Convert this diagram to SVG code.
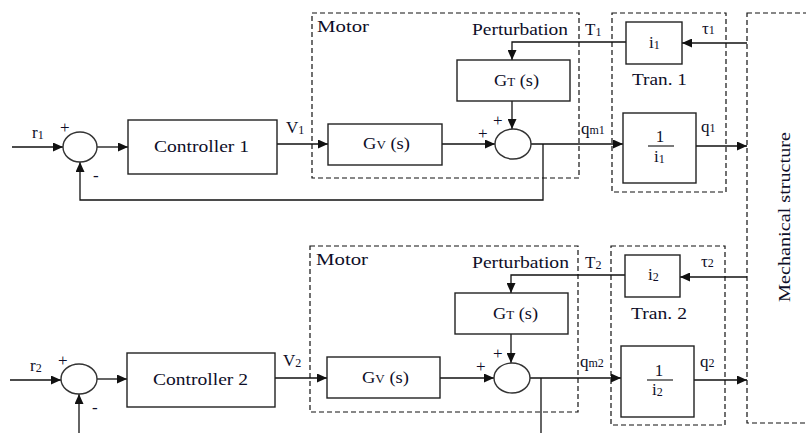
<svg xmlns="http://www.w3.org/2000/svg" width="806" height="433" viewBox="0 0 806 433">
<defs>
<marker id="ah" markerUnits="userSpaceOnUse" markerWidth="11" markerHeight="9" refX="10" refY="4.5" orient="auto">
<path d="M0,0 L10,4.5 L0,9 z" fill="#111"/>
</marker>
<style>
.blk{fill:#fff;stroke:#222;stroke-width:1.4}
.sum{fill:#fff;stroke:#333;stroke-width:1.4}
.dash{fill:none;stroke:#111;stroke-width:1.2;stroke-dasharray:5,3}
.ln{fill:none;stroke:#111;stroke-width:1.3}
.ar{marker-end:url(#ah)}
text{font-family:"Liberation Serif","Times New Roman",serif;fill:#0e0e28;font-size:17px}
.sub{font-size:12px}
.sg{font-size:17px}
</style>
</defs>
<rect width="806" height="433" fill="#fff"/>

<g id="connectors">
<path class="ln ar" d="M12,147 H63"/>
<path class="ln ar" d="M97,147 H128"/>
<path class="ln ar" d="M277,144 H328"/>
<path class="ln ar" d="M442,144 H495"/>
<path class="ln ar" d="M512,101 V129"/>
<path class="ln ar" d="M626,42 H512 V60"/>
<path class="ln ar" d="M531,144 H623"/>
<path class="ln ar" d="M543,144 V200 H80 V162"/>
<path class="ln ar" d="M696,146 H747"/>
<path class="ln ar" d="M747,43 H682"/>

<path class="ln ar" d="M10,380 H61"/>
<path class="ln ar" d="M97,379 H127"/>
<path class="ln ar" d="M275,378 H327"/>
<path class="ln ar" d="M440,378 H494"/>
<path class="ln ar" d="M511,334 V363"/>
<path class="ln ar" d="M625,275 H511 V293"/>
<path class="ln ar" d="M530,378 H621"/>
<path class="ln" d="M541,378 V433"/>
<path class="ln ar" d="M79,433 V394"/>
<path class="ln ar" d="M694,380 H747"/>
<path class="ln ar" d="M747,277 H680"/>
</g>

<g id="motor1">
<rect class="dash" x="312" y="13" width="267" height="165"/>
<text x="317" y="32" textLength="52" lengthAdjust="spacingAndGlyphs">Motor</text>
<text x="472" y="35" textLength="96" lengthAdjust="spacingAndGlyphs">Perturbation</text>
</g>
<g id="motor2">
<rect class="dash" x="310" y="246" width="268" height="166"/>
<text x="316" y="265" textLength="52" lengthAdjust="spacingAndGlyphs">Motor</text>
<text x="472" y="268" textLength="97" lengthAdjust="spacingAndGlyphs">Perturbation</text>
</g>
<g id="tran1">
<rect class="dash" x="612" y="13" width="114" height="179"/>
<text x="632" y="85" textLength="55" lengthAdjust="spacingAndGlyphs">Tran. 1</text>
</g>
<g id="tran2">
<rect class="dash" x="611" y="246" width="114" height="179"/>
<text x="631" y="319" textLength="56" lengthAdjust="spacingAndGlyphs">Tran. 2</text>
</g>
<g id="mech">
<rect class="dash" x="747" y="13" width="80" height="410"/>
<text transform="translate(790,217) rotate(-90)" text-anchor="middle" font-size="18" textLength="170" lengthAdjust="spacingAndGlyphs">Mechanical structure</text>
</g>

<g id="sum1a">
<ellipse class="sum" cx="80" cy="147" rx="17" ry="15"/>
<text x="60" y="133" class="sg">+</text>
<text x="93" y="181" class="sg">-</text>
</g>
<g id="ctrl1">
<rect class="blk" x="128" y="120" width="149" height="54"/>
<text x="154" y="152" font-size="17" textLength="95" lengthAdjust="spacingAndGlyphs">Controller 1</text>
</g>
<g id="gv1">
<rect class="blk" x="328" y="124" width="114" height="41"/>
<text x="363" y="149" textLength="47" lengthAdjust="spacingAndGlyphs">G<tspan class="sub" font-size="13">V</tspan> (s)</text>
</g>
<g id="gt1">
<rect class="blk" x="457" y="60" width="113" height="41"/>
<text x="494" y="86" textLength="45" lengthAdjust="spacingAndGlyphs">G<tspan class="sub" font-size="13">T</tspan> (s)</text>
</g>
<g id="sum1b">
<ellipse class="sum" cx="513" cy="144" rx="18" ry="15"/>
<text x="493" y="126" class="sg">+</text>
<text x="478" y="139" class="sg">+</text>
</g>
<g id="i1box">
<rect class="blk" x="626" y="22" width="56" height="42"/>
<text x="649" y="48">i<tspan class="sub" dy="1">1</tspan></text>
</g>
<g id="inv1">
<rect class="blk" x="623" y="113" width="73" height="70"/>
<text x="660" y="142" text-anchor="middle" font-size="18">1</text>
<line x1="648" y1="146" x2="674" y2="146" stroke="#222" stroke-width="1.2"/>
<text x="654" y="162">i<tspan class="sub" dy="1">1</tspan></text>
</g>

<g id="sum2a">
<ellipse class="sum" cx="79" cy="379" rx="18" ry="15"/>
<text x="58" y="366" class="sg">+</text>
<text x="92" y="413" class="sg">-</text>
</g>
<g id="ctrl2">
<rect class="blk" x="127" y="353" width="148" height="54"/>
<text x="153" y="385" font-size="17" textLength="95" lengthAdjust="spacingAndGlyphs">Controller 2</text>
</g>
<g id="gv2">
<rect class="blk" x="327" y="357" width="113" height="41"/>
<text x="362" y="383" textLength="47" lengthAdjust="spacingAndGlyphs">G<tspan class="sub" font-size="13">V</tspan> (s)</text>
</g>
<g id="gt2">
<rect class="blk" x="455" y="293" width="113" height="41"/>
<text x="493" y="319" textLength="45" lengthAdjust="spacingAndGlyphs">G<tspan class="sub" font-size="13">T</tspan> (s)</text>
</g>
<g id="sum2b">
<ellipse class="sum" cx="512" cy="378" rx="18" ry="15"/>
<text x="493" y="359" class="sg">+</text>
<text x="476" y="372" class="sg">+</text>
</g>
<g id="i2box">
<rect class="blk" x="625" y="255" width="55" height="42"/>
<text x="648" y="280">i<tspan class="sub" dy="1">2</tspan></text>
</g>
<g id="inv2">
<rect class="blk" x="621" y="346" width="73" height="71"/>
<text x="659" y="376" text-anchor="middle" font-size="18">1</text>
<line x1="647" y1="380" x2="673" y2="380" stroke="#222" stroke-width="1.2"/>
<text x="652" y="395">i<tspan class="sub" dy="1">2</tspan></text>
</g>

<g id="labels">
<text x="32" y="138">r<tspan class="sub" dy="1">1</tspan></text>
<text x="30" y="371">r<tspan class="sub" dy="1">2</tspan></text>
<text x="286" y="133">V<tspan class="sub" dy="1">1</tspan></text>
<text x="283" y="366">V<tspan class="sub" dy="1">2</tspan></text>
<text x="585" y="35">T<tspan class="sub" dy="1">1</tspan></text>
<text x="585" y="268">T<tspan class="sub" dy="1">2</tspan></text>
<text x="581" y="134">q<tspan class="sub">m1</tspan></text>
<text x="580" y="367">q<tspan class="sub">m2</tspan></text>
<text x="701" y="132">q<tspan class="sub">1</tspan></text>
<text x="700" y="367">q<tspan class="sub">2</tspan></text>
<text x="702" y="34">τ<tspan class="sub">1</tspan></text>
<text x="701" y="267">τ<tspan class="sub">2</tspan></text>
</g>
</svg>
